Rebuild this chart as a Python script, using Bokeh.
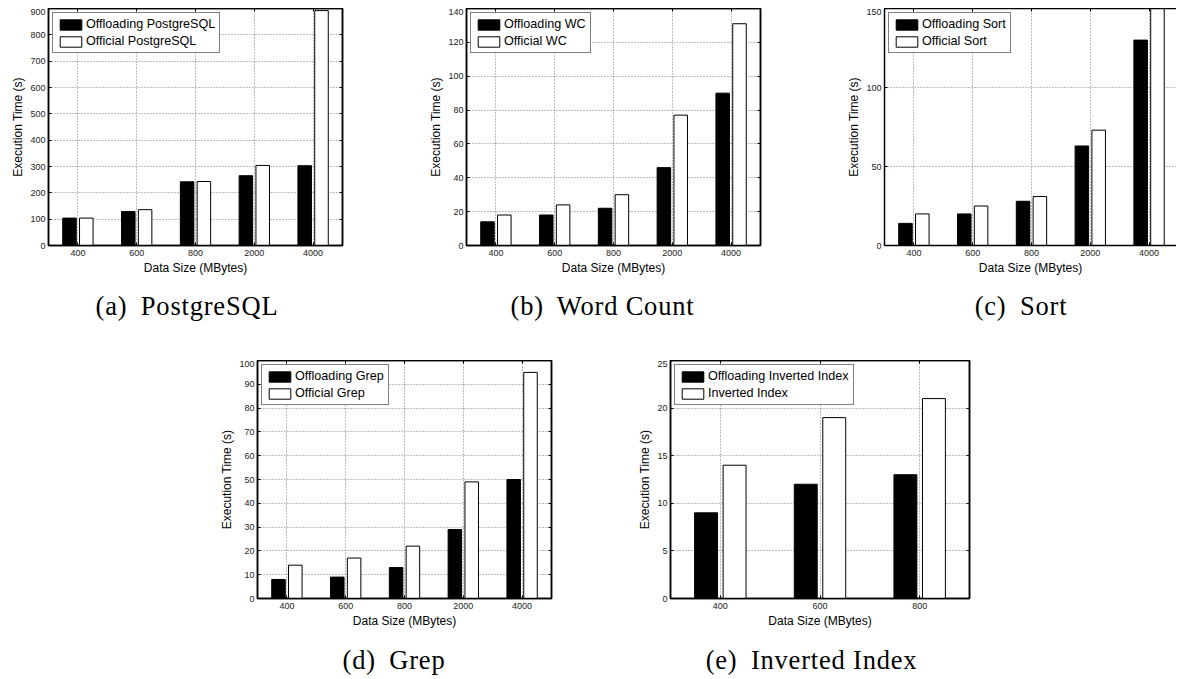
from bokeh.plotting import figure
from bokeh.models import (ColumnDataSource, FixedTicker, LinearAxis, Range1d,
                          Legend, LegendItem, Div, Spacer)
from bokeh.layouts import row, column
from bokeh.transform import dodge
from bokeh.embed import file_html
from bokeh.resources import INLINE

# ---------------- data ----------------
pg_sizes = ["400", "600", "800", "2000", "4000"]
pg_offload = [104, 129, 242, 265, 303]
pg_official = [104, 136, 243, 304, 892]

wc_sizes = ["400", "600", "800", "2000", "4000"]
wc_offload = [14, 18, 22, 46, 90]
wc_official = [18, 24, 30, 77, 131]

sort_sizes = ["400", "600", "800", "2000", "4000"]
sort_offload = [14, 20, 28, 63, 130]
sort_official = [20, 25, 31, 73, 160]

grep_sizes = ["400", "600", "800", "2000", "4000"]
grep_offload = [8, 9, 13, 29, 50]
grep_official = [14, 17, 22, 49, 95]

ii_sizes = ["400", "600", "800"]
ii_offload = [9, 12, 13]
ii_official = [14, 19, 21]

FONT = "Liberation Sans"


def make_chart(cats, off, off_label, offi, offi_label, ymax, ystep,
               w, h, frame_w, border_bottom, x_end=None, right_axis=True):
    n = len(cats)
    idx = list(range(n))
    src = ColumnDataSource(dict(idx=idx, off=off, offi=offi))
    if x_end is None:
        x_end = n - 0.5
    p = figure(width=w, height=h, x_range=Range1d(-0.5, x_end),
               y_range=Range1d(0, ymax), output_backend="svg",
               toolbar_location=None, min_border_left=34,
               min_border_right=w - 34 - frame_w, min_border_top=0,
               min_border_bottom=border_bottom)
    p.background_fill_color = "white"
    p.border_fill_color = "white"
    if right_axis:
        p.outline_line_color = "black"
        p.outline_line_width = 1.5
    else:
        p.outline_line_color = None

    yticks = list(range(0, ymax + 1, ystep))

    # grids (dotted)
    p.xgrid.ticker = FixedTicker(ticks=idx)
    p.ygrid.ticker = FixedTicker(ticks=yticks)
    for g in (p.xgrid, p.ygrid):
        g.grid_line_color = "#7a7a7a"
        g.grid_line_dash = "1 2"
        g.grid_line_width = 1

    # axes
    xa = p.xaxis[0]
    xa.ticker = FixedTicker(ticks=idx)
    xa.major_label_overrides = {i: c for i, c in enumerate(cats)}
    xa.axis_label = "Data Size (MBytes)"
    xa.axis_label_standoff = 2
    xa.major_label_standoff = 4
    ya = p.yaxis[0]
    ya.ticker = FixedTicker(ticks=yticks)
    ya.axis_label = "Execution Time (s)"
    ya.axis_label_standoff = 2
    ya.major_label_standoff = 3
    for a in (xa, ya):
        a.axis_label_text_font = FONT
        a.axis_label_text_font_size = "12px"
        a.axis_label_text_font_style = "normal"
        a.axis_label_text_color = "black"
        a.major_label_text_font = FONT
        a.major_label_text_font_size = "9px"
        a.major_label_text_color = "#222222"
        a.major_tick_in = 3
        a.major_tick_out = 0
        a.minor_tick_line_color = None
        a.axis_line_width = 1.5
        a.axis_line_color = "black"
        a.major_tick_line_color = "black"

    # box ticks on top / right (MATLAB style)
    top = LinearAxis(ticker=FixedTicker(ticks=idx),
                     major_label_overrides={i: "" for i in idx},
                     major_label_standoff=0, major_tick_in=3, major_tick_out=0,
                     minor_tick_line_color=None, axis_line_width=1.5,
                     major_label_text_font_size="0px")
    p.add_layout(top, "above")
    if right_axis:
        rgt = LinearAxis(ticker=FixedTicker(ticks=yticks),
                         major_label_overrides={t: "" for t in yticks},
                         major_label_standoff=0, major_tick_in=3,
                         major_tick_out=0, minor_tick_line_color=None,
                         axis_line_width=1.5, major_label_text_font_size="0px")
        p.add_layout(rgt, "right")

    r1 = p.vbar(x=dodge("idx", -0.143), top="off", width=0.23, source=src,
                fill_color="black", line_color="black", line_width=1)
    r2 = p.vbar(x=dodge("idx", 0.143), top="offi", width=0.23, source=src,
                fill_color="white", line_color="black", line_width=1)

    leg = Legend(items=[LegendItem(label=off_label, renderers=[r1]),
                        LegendItem(label=offi_label, renderers=[r2])],
                 location="top_left")
    leg.label_text_font = FONT
    leg.label_text_font_size = "12.6px"
    leg.label_text_color = "black"
    leg.glyph_width = 27
    leg.glyph_height = 13
    leg.label_height = 13
    leg.label_standoff = 2
    leg.spacing = 3
    leg.padding = 4
    leg.margin = 4
    leg.border_line_color = "black"
    leg.border_line_width = 1
    leg.background_fill_color = "white"
    leg.background_fill_alpha = 1
    p.add_layout(leg)
    return p


fa = make_chart(pg_sizes, pg_offload, "Offloading PostgreSQL", pg_official,
                "Official PostgreSQL", 900, 100, 418, 280, 300, 43)
fb = make_chart(wc_sizes, wc_offload, "Offloading WC", wc_official,
                "Official WC", 140, 20, 418, 280, 300, 43)
fc = make_chart(sort_sizes, sort_offload, "Offloading Sort", sort_official,
                "Official Sort", 150, 50, 332, 280, 298, 43,
                x_end=4.4667, right_axis=False)
fd = make_chart(grep_sizes, grep_offload, "Offloading Grep", grep_official,
                "Official Grep", 100, 10, 418, 278, 300, 40)
fe = make_chart(ii_sizes, ii_offload, "Offloading Inverted Index",
                ii_official, "Inverted Index", 25, 5, 418, 278, 300, 40)


def caption(label, name, w, h, pad, lh):
    html = ('<div style="width:%dpx;text-align:center;'
            'font-family:\'Liberation Serif\',serif;font-size:26.5px;'
            'line-height:%dpx;padding-top:%dpx;letter-spacing:0.8px;'
            'white-space:nowrap;color:#000;margin:0">'
            '<span style="margin-right:6px">%s</span> %s</div>'
            % (w, lh, pad, label, name))
    return Div(text=html, width=w, height=h, margin=0)


top_caps = row(caption("(a)", "PostgreSQL", 358, 72, 5, 26),
               caption("(b)", "Word Count", 473, 72, 5, 26),
               Spacer(width=34, height=72),
               caption("(c)", "Sort", 296, 72, 5, 26))
bottom_row = row(Spacer(width=209, height=278), fd, fe)
bottom_caps = row(Spacer(width=186, height=33),
                  caption("(d)", "Grep", 400, 33, 11, 22),
                  caption("(e)", "Inverted Index", 435, 33, 11, 22))

body = column(row(fa, fb, fc), top_caps, bottom_row, bottom_caps)
layout = column(Spacer(width=1169, height=8),
                row(Spacer(width=8, height=663), body))

open("out.html", "w").write(file_html(layout, INLINE))
